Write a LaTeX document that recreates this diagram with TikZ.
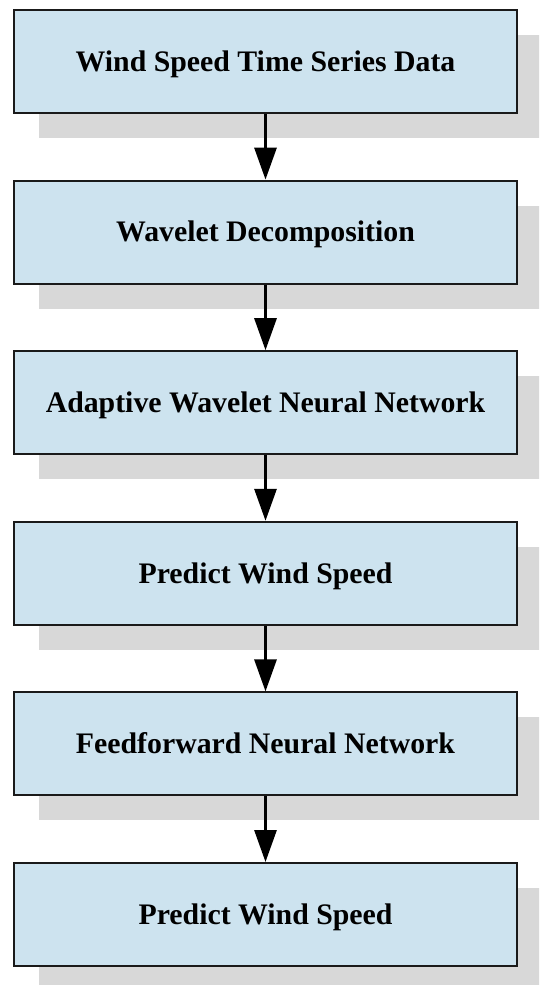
\documentclass[tikz,border=0pt]{standalone}
\usepackage{fontspec}
\setmainfont{Liberation Serif}
\usetikzlibrary{arrows.meta,shadows}
\definecolor{boxfill}{HTML}{CDE3EF}
\definecolor{shadowgray}{HTML}{D8D8D8}
\definecolor{edgecol}{HTML}{1A1A1A}
\begin{document}
\begin{tikzpicture}[x=1pt,y=-1pt,
  stepbox/.style={draw=edgecol, line width=2pt, fill=boxfill,
    minimum width=503pt, minimum height=103pt, inner sep=0pt,
    text height=19.7pt, text depth=0pt,
    font=\fontsize{29.8}{33}\selectfont\bfseries,
    general shadow={shadow xshift=25pt, shadow yshift=-25pt, fill=shadowgray, draw=none}},
  flow/.style={line width=3pt, draw=black, -{Triangle[width=22pt,length=32pt]}}]
\useasboundingbox (0,0) rectangle (539,985);
\clip (0,0) rectangle (539,985);
\node[stepbox] (b1) at (265.5, 61.5) {Wind Speed Time Series Data};
\node[stepbox] (b2) at (265.5, 232.1) {Wavelet Decomposition};
\node[stepbox] (b3) at (265.5, 402.7) {Adaptive Wavelet Neural Network};
\node[stepbox] (b4) at (265.5, 573.3) {Predict Wind Speed};
\node[stepbox] (b5) at (265.5, 743.9) {Feedforward Neural Network};
\node[stepbox] (b6) at (265.5, 914.5) {Predict Wind Speed};
\draw[flow] (b1) -- (b2);
\draw[flow] (b2) -- (b3);
\draw[flow] (b3) -- (b4);
\draw[flow] (b4) -- (b5);
\draw[flow] (b5) -- (b6);
\end{tikzpicture}
\end{document}
